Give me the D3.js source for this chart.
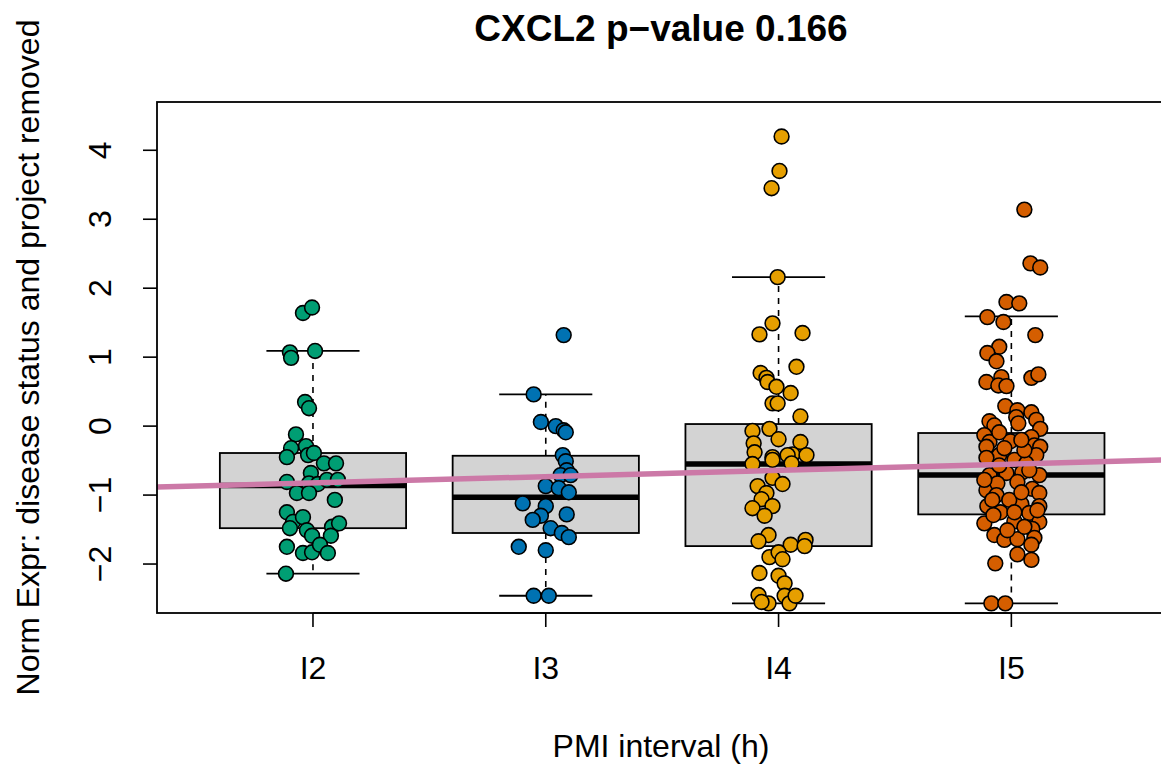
<!DOCTYPE html>
<html>
<head>
<meta charset="utf-8">
<script src="https://cdn.jsdelivr.net/npm/d3@7"></script>
<style>
  html, body { margin: 0; padding: 0; background: #fff; }
  svg { display: block; }
  text { font-family: "Liberation Sans", Arial, Helvetica, sans-serif; }
</style>
</head>
<body>
<script>
// ---------- DATA ----------
const categories = ["I2", "I3", "I4", "I5"];
const groupColors = ["#009E73", "#0072B2", "#E69F00", "#D55E00"];
const yTicks = [-2, -1, 0, 1, 2, 3, 4];

// box statistics
const whiskerLow  = [-2.14, -2.46, -2.57, -2.57];
const quartile1   = [-1.48, -1.55, -1.74, -1.28];
const medians     = [-0.86, -1.03, -0.55, -0.71];
const quartile3   = [-0.39, -0.43,  0.03, -0.10];
const whiskerHigh = [ 1.09,  0.46,  2.16,  1.59];

// jittered points: [jitter offset (category units), value]
const pointsI2 = [
  [-0.043,1.64],[-0.004,1.72],[-0.099,1.07],[-0.094,0.99],[0.009,1.09],[-0.034,0.35],[-0.017,0.26],
  [-0.073,-0.12],[-0.094,-0.32],[-0.030,-0.29],[-0.112,-0.45],[-0.021,-0.42],[0.004,-0.39],[0.047,-0.54],
  [0.099,-0.54],[-0.009,-0.68],[-0.112,-0.81],[-0.017,-0.83],[0.021,-0.84],[0.060,-0.78],[0.107,-0.78],
  [-0.069,-0.97],[-0.017,-0.97],[0.094,-1.07],[-0.112,-1.25],[-0.086,-1.39],[-0.043,-1.32],[-0.099,-1.48],
  [-0.026,-1.51],[-0.004,-1.59],[0.082,-1.46],[0.112,-1.41],[0.077,-1.59],[-0.112,-1.75],[-0.043,-1.84],
  [-0.004,-1.83],[0.030,-1.72],[0.064,-1.84],[-0.116,-2.14]
];
const pointsI3 = [
  [0.077,1.32],[-0.052,0.46],[-0.021,0.06],[0.043,0.00],[0.077,-0.06],[0.086,-0.09],[0.073,-0.42],
  [0.086,-0.51],[0.090,-0.64],[0.064,-0.71],[0.107,-0.71],[0.000,-0.87],[0.056,-0.90],[0.099,-0.96],
  [-0.099,-1.12],[0.000,-1.16],[-0.021,-1.30],[-0.056,-1.36],[0.090,-1.28],[0.021,-1.48],[0.069,-1.55],
  [0.099,-1.61],[-0.116,-1.75],[0.000,-1.80],[-0.052,-2.46],[0.013,-2.46]
];
const pointsI4 = [
  [0.013,4.20],[0.004,3.70],[-0.030,3.45],[-0.004,2.16],[-0.026,1.49],[-0.082,1.33],[0.103,1.35],
  [0.077,0.86],[-0.077,0.77],[-0.052,0.70],[-0.047,0.64],[-0.009,0.57],[0.052,0.48],[-0.026,0.33],
  [-0.004,0.33],[0.094,0.14],[-0.112,-0.07],[-0.039,-0.04],[0.000,-0.19],[-0.107,-0.25],[0.094,-0.23],
  [-0.103,-0.38],[-0.026,-0.45],[0.060,-0.41],[0.120,-0.42],[0.039,-0.42],[-0.112,-0.55],[-0.026,-0.49],
  [0.056,-0.54],[-0.026,-0.75],[0.017,-0.84],[-0.090,-0.87],[-0.052,-0.97],[-0.073,-1.06],[-0.026,-1.16],
  [-0.112,-1.19],[-0.060,-1.30],[-0.043,-1.58],[-0.086,-1.67],[0.052,-1.72],[0.116,-1.65],[0.112,-1.74],
  [-0.039,-1.90],[0.000,-1.83],[0.017,-1.93],[-0.082,-2.13],[0.000,-2.17],[0.026,-2.28],[-0.086,-2.45],
  [-0.043,-2.57],[0.026,-2.46],[0.047,-2.57],[0.073,-2.46],[-0.073,-2.55]
];
const pointsI5 = [
  [0.056,3.14],[0.082,2.36],[0.124,2.30],[-0.021,1.80],[0.034,1.78],[-0.103,1.58],[-0.034,1.51],
  [0.103,1.32],[-0.052,1.15],[-0.103,1.06],[-0.064,0.94],[-0.107,0.64],[-0.043,0.71],[-0.056,0.59],
  [-0.021,0.58],[0.086,0.70],[0.116,0.75],[-0.026,0.29],[0.026,0.23],[0.086,0.20],[-0.094,0.07],
  [0.021,0.13],[0.030,0.04],[0.107,0.09],[0.124,-0.04],[-0.073,0.01],[-0.116,-0.13],[0.086,-0.16],
  [-0.004,-0.22],[-0.094,-0.23],[0.099,-0.28],[0.124,-0.30],[-0.107,-0.30],[-0.052,-0.42],[0.107,-0.42],
  [-0.107,-0.46],[0.013,-0.49],[0.064,-0.54],[-0.021,-0.68],[-0.094,-0.71],[0.047,-0.67],[0.120,-0.71],
  [-0.107,-0.93],[-0.060,-0.83],[0.026,-0.81],[0.090,-0.91],[-0.064,-1.00],[0.120,-0.97],[-0.103,-1.16],
  [0.043,-1.13],[0.120,-1.16],[-0.047,-1.25],[0.077,-1.26],[-0.116,-1.41],[0.013,-1.38],[0.120,-1.39],
  [0.090,-1.49],[-0.073,-1.58],[-0.030,-1.65],[0.026,-1.64],[0.099,-1.62],[0.086,-1.72],[0.026,-1.86],
  [0.086,-1.94],[-0.069,-1.99],[-0.086,-2.57],[-0.026,-2.57],
  [-0.052,-0.57],[0.056,-0.35],[-0.009,-1.07],[0.043,-0.96],[-0.077,-1.29],[0.056,-1.46],[-0.017,-1.51],
  [-0.082,-1.07],[0.077,-0.64],[-0.030,-0.32],[0.043,-0.20],[-0.052,-0.09],[0.013,-1.25],[-0.116,-0.78],
  [0.112,-1.22]
];
const groupPoints = [pointsI2, pointsI3, pointsI4, pointsI5];

// regression line: value = intercept + slope * position
const regIntercept = -0.914;
const regSlope = 0.0907;

const titleText = "CXCL2 p\u2212value 0.166";
const xTitle = "PMI interval (h)";
const yTitle = "Norm Expr: disease status and project removed";

// ---------- LAYOUT ----------
const W = 1161, H = 770;
const plot = { left: 157, right: 1165, top: 102, bottom: 613 };

const svg = d3.select("body").append("svg").attr("width", W).attr("height", H);

const x = d3.scaleLinear().domain([0.33, 4.66]).range([plot.left, plot.right]);
const y = d3.scaleLinear().domain([-2.71, 4.70]).range([plot.bottom, plot.top]);

const boxHalf = 0.4, capHalf = 0.2;

svg.append("defs").append("clipPath").attr("id", "clip")
  .append("rect").attr("x", plot.left).attr("y", plot.top)
  .attr("width", plot.right - plot.left).attr("height", plot.bottom - plot.top);

const g = svg.append("g");

// boxes
categories.forEach((c, i) => {
  const pos = i + 1;
  const bg = g.append("g");
  bg.append("line").attr("x1", x(pos)).attr("x2", x(pos))
    .attr("y1", y(quartile3[i])).attr("y2", y(whiskerHigh[i]))
    .attr("stroke", "#000").attr("stroke-width", 1.6).attr("stroke-dasharray", "6,6");
  bg.append("line").attr("x1", x(pos)).attr("x2", x(pos))
    .attr("y1", y(quartile1[i])).attr("y2", y(whiskerLow[i]))
    .attr("stroke", "#000").attr("stroke-width", 1.6).attr("stroke-dasharray", "6,6");
  [whiskerHigh[i], whiskerLow[i]].forEach(v => {
    bg.append("line").attr("x1", x(pos - capHalf)).attr("x2", x(pos + capHalf))
      .attr("y1", y(v)).attr("y2", y(v)).attr("stroke", "#000").attr("stroke-width", 1.8);
  });
  bg.append("rect").attr("x", x(pos - boxHalf)).attr("width", x(pos + boxHalf) - x(pos - boxHalf))
    .attr("y", y(quartile3[i])).attr("height", y(quartile1[i]) - y(quartile3[i]))
    .attr("fill", "#D3D3D3").attr("stroke", "#000").attr("stroke-width", 1.8);
  bg.append("line").attr("x1", x(pos - boxHalf)).attr("x2", x(pos + boxHalf))
    .attr("y1", y(medians[i])).attr("y2", y(medians[i]))
    .attr("stroke", "#000").attr("stroke-width", 5.5);
});

// points
categories.forEach((c, i) => {
  g.append("g").selectAll("circle").data(groupPoints[i]).join("circle")
    .attr("cx", d => x(i + 1 + d[0]))
    .attr("cy", d => y(d[1]))
    .attr("r", 7.4)
    .attr("fill", groupColors[i])
    .attr("stroke", "#000")
    .attr("stroke-width", 1.6);
});

// regression line
g.append("line").attr("clip-path", "url(#clip)")
  .attr("x1", x(0.0)).attr("y1", y(regIntercept + regSlope * 0.0))
  .attr("x2", x(5.0)).attr("y2", y(regIntercept + regSlope * 5.0))
  .attr("stroke", "#CC79A7").attr("stroke-width", 5.5);

// frame
svg.append("rect").attr("x", plot.left).attr("y", plot.top)
  .attr("width", plot.right - plot.left).attr("height", plot.bottom - plot.top)
  .attr("fill", "none").attr("stroke", "#000").attr("stroke-width", 1.8);

// y axis
const fs = 32;
yTicks.forEach(t => {
  svg.append("line").attr("x1", plot.left).attr("x2", plot.left - 14)
    .attr("y1", y(t)).attr("y2", y(t)).attr("stroke", "#000").attr("stroke-width", 1.6);
  svg.append("text")
    .attr("transform", `translate(111,${y(t)}) rotate(-90)`)
    .attr("text-anchor", "middle").attr("font-size", fs)
    .text(t < 0 ? "\u2212" + Math.abs(t) : String(t));
});

// x axis
svg.append("line").attr("x1", x(1)).attr("x2", x(4))
  .attr("y1", plot.bottom).attr("y2", plot.bottom).attr("stroke", "#000").attr("stroke-width", 1.6);
categories.forEach((c, i) => {
  svg.append("line").attr("x1", x(i + 1)).attr("x2", x(i + 1))
    .attr("y1", plot.bottom).attr("y2", plot.bottom + 14).attr("stroke", "#000").attr("stroke-width", 1.6);
  svg.append("text").attr("x", x(i + 1)).attr("y", 679)
    .attr("text-anchor", "middle").attr("font-size", fs).text(c);
});

// titles
svg.append("text").attr("x", (plot.left + plot.right) / 2).attr("y", 41)
  .attr("text-anchor", "middle").attr("font-size", 37).attr("font-weight", "bold").text(titleText);
svg.append("text").attr("x", (plot.left + plot.right) / 2).attr("y", 757)
  .attr("text-anchor", "middle").attr("font-size", fs).text(xTitle);
svg.append("text")
  .attr("transform", `translate(39,${(plot.top + plot.bottom) / 2}) rotate(-90)`)
  .attr("text-anchor", "middle").attr("font-size", fs).text(yTitle);
</script>
</body>
</html>
